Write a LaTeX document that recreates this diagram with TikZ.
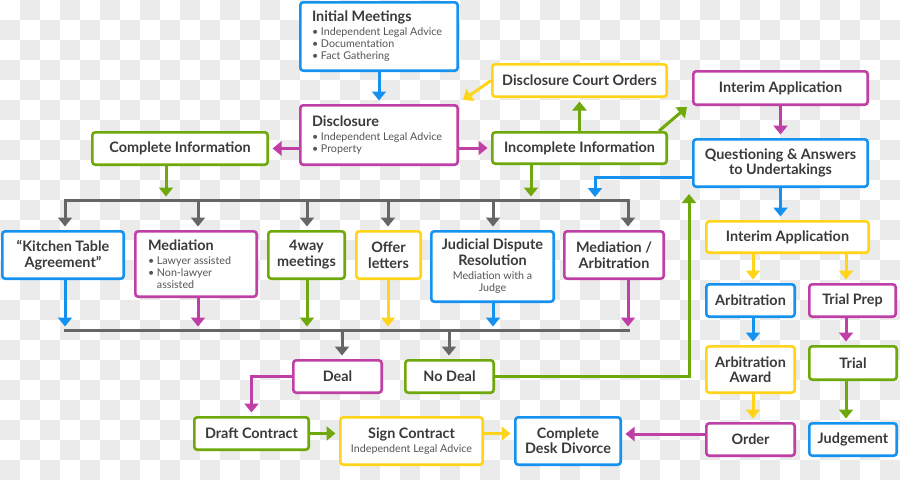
\documentclass[tikz,border=0pt]{standalone}
\usepackage{fontspec}
\setmainfont{Lato}
\usetikzlibrary{arrows.meta,calc}
\definecolor{cblue}{HTML}{1591F0}
\definecolor{cmag}{HTML}{BF3FA6}
\definecolor{cgreen}{HTML}{6FA80A}
\definecolor{cyel}{HTML}{FFD41A}
\definecolor{cgray}{HTML}{666666}
\definecolor{ctext}{HTML}{3A3A3A}
\definecolor{csub}{HTML}{555555}
\definecolor{checker}{HTML}{EBEBEB}
\newcommand\mytitle{\bfseries\fontsize{14.4}{16}\selectfont}
\newcommand\mysub{\mdseries\fontsize{10.7}{12}\selectfont\color{csub}}
\newcommand\bulletbox[2]{\parbox[c]{#1}{\raggedright #2}}
\begin{document}
\begin{tikzpicture}[x=1pt,y=-1pt,
  box/.style={draw=#1, line width=2.6pt, rounded corners=3pt, fill=white, inner sep=3pt, align=center, text=ctext, font=\mytitle},
  sz/.style 2 args={minimum width=#1pt-2.6pt, minimum height=#2pt-2.6pt},
  ar/.style={draw=#1, line width=3pt, -{Triangle[width=14pt,length=9pt]}, shorten >=3.5pt},
  bus/.style={draw=cgray, line width=3pt, line cap=rect}]
\useasboundingbox (0,0) rectangle (900,480);
% background
\fill[white] (0,0) rectangle (900,480);
\foreach \i in {0,...,44}{\foreach \j in {0,...,23}{\pgfmathtruncatemacro\chk{mod(\i+\j,2)}\ifnum\chk=1 \fill[checker] (\i*20,\j*20) rectangle ++(20,20);\fi}}

% nodes
\node[box=cblue, sz={160}{71}, inner xsep=11.7pt] (init) at (379,36.5)
  {\bulletbox{134pt}{\mytitle Initial Meetings\\[2pt]\mysub • Independent Legal Advice\\• Documentation\\• Fact Gathering}};
\node[box=cblue, draw=cmag, sz={160}{62}, inner xsep=11.7pt] (discl) at (379,135)
  {\bulletbox{134pt}{\mytitle Disclosure\\[2pt]\mysub • Independent Legal Advice\\• Property}};
\node[box=cgreen, sz={178}{35}] (compinfo) at (180,148.5) {Complete Information};
\node[box=cyel, sz={177}{35}] (courtord) at (579.5,80.5) {Disclosure Court Orders};
\node[box=cgreen, sz={177}{34}] (incomp) at (579.5,148) {Incomplete Information};
\node[box=cmag, sz={177}{36}] (interim1) at (780.5,88) {Interim Application};
\node[box=cblue, sz={177}{50}] (quest) at (780.5,163) {Questioning \& Answers\\[-1pt]to Undertakings};

\node[box=cblue, sz={124}{50}] (kitchen) at (63,255) {“Kitchen Table\\Agreement”};
\node[box=cmag, sz={124}{68}, inner xsep=12.7pt] (mediation) at (196,264)
  {\bulletbox{96pt}{\mytitle Mediation\\[2pt]\mysub • Lawyer assisted\\• Non-lawyer\\\hphantom{• }assisted}};
\node[box=cgreen, sz={79}{50}] (fourway) at (306.5,255) {4way\\meetings};
\node[box=cyel, sz={67}{50}] (offer) at (388.5,255) {Offer\\letters};
\node[box=cblue, sz={125}{73}] (jdr) at (492.5,266.5)
  {Judicial Dispute\\Resolution\\[-2pt]\mysub Mediation with a\\[-4pt]\mysub Judge};
\node[box=cmag, sz={102}{50}] (medarb) at (614,255) {Mediation /\\Arbitration};

\node[box=cyel, sz={165}{34}] (interim2) at (787.5,237) {Interim Application};
\node[box=cblue, sz={91}{35}] (arbit) at (750.5,300.5) {Arbitration};
\node[box=cmag, sz={89}{35}] (trialprep) at (852.5,300.5) {Trial Prep};
\node[box=cyel, sz={91}{49}] (award) at (750.5,369.5) {Arbitration\\[-1pt]Award};
\node[box=cgreen, sz={90}{36}] (trial) at (853,363) {Trial};
\node[box=cmag, sz={91}{35}] (order) at (750.5,439.5) {Order};
\node[box=cblue, sz={90}{35}] (judge) at (853,439.5) {Judgement};

\node[box=cmag, sz={91}{35}] (deal) at (337.5,376.5) {Deal};
\node[box=cgreen, sz={91}{35}] (nodeal) at (449.5,376.5) {No Deal};
\node[box=cgreen, sz={117}{35}] (draft) at (251.5,433.5) {Draft Contract};
\node[box=cyel, sz={145}{50}] (sign) at (411.5,441) {Sign Contract\\[-2pt]\mysub Independent Legal Advice};
\node[box=cblue, sz={108}{50}] (cdd) at (568,441) {Complete\\[-1pt]Desk Divorce};

% coordinates
\coordinate (c1) at (463,100);
\coordinate (c2) at (687,107);
\coordinate (c3) at (595,197);
\coordinate (c4) at (689,194);
\coordinate (a1) at ($(compinfo.south)+(-14,0)$);
\coordinate (a2) at ($(incomp.south)+(-48.5,0)$);
\coordinate (a3) at ($(incomp.north east)+(-9,0)$);
\coordinate (tbL) at (65,200);
\coordinate (tbR) at (628,200);
\coordinate (bbL) at (65,330);
\coordinate (bbR) at (628,330);
\coordinate (x2) at (198,0);
\coordinate (x3) at (307,0);
\coordinate (x4) at (388,0);
\coordinate (x5) at (493,0);
\coordinate (d1) at (342,330);
\coordinate (d2) at (449,330);
\coordinate (v1) at (753,0);
\coordinate (v2) at (846,0);
\coordinate (o1) at ($(order.west)+(0,-5.5)$);
\coordinate (q1) at ($(quest.west)+(0,14)$);

% upper connectors
\draw[ar=cblue] (init) -- (discl);
\draw[ar=cmag] (discl.west |- compinfo.east) -- (compinfo.east);
\draw[ar=cmag] (discl.east |- incomp.west) -- (incomp.west);
\draw[ar=cgreen] (incomp) -- (courtord);
\draw[ar=cyel, shorten >=0pt] (courtord.west) -- (c1);
\draw[ar=cgreen, shorten >=0pt] (a3) -- (c2);
\draw[ar=cmag] (interim1) -- (quest);
\draw[ar=cblue, shorten >=0pt] (q1) -| (c3);
\draw[ar=cgreen] (a1) -- (a1 |- tbL);
\draw[ar=cgreen] (a2) -- (a2 |- tbL);
\draw[ar=cblue] (quest.south) -- (quest.south |- interim2.north);

% upper bus
\draw[bus] (tbL) -- (tbR);
\draw[ar=cgray] (tbL) -- (tbL |- kitchen.north);
\draw[ar=cgray] (x2 |- tbL) -- (x2 |- mediation.north);
\draw[ar=cgray] (x3 |- tbL) -- (x3 |- fourway.north);
\draw[ar=cgray] (x4 |- tbL) -- (x4 |- offer.north);
\draw[ar=cgray] (x5 |- tbL) -- (x5 |- jdr.north);
\draw[ar=cgray] (tbR) -- (tbR |- medarb.north);

% lower bus
\draw[bus] (bbL) -- (bbR);
\draw[ar=cblue] (tbL |- kitchen.south) -- (bbL);
\draw[ar=cmag] (x2 |- mediation.south) -- (x2 |- bbL);
\draw[ar=cgreen] (x3 |- fourway.south) -- (x3 |- bbL);
\draw[ar=cyel] (x4 |- offer.south) -- (x4 |- bbL);
\draw[ar=cblue] (x5 |- jdr.south) -- (x5 |- bbL);
\draw[ar=cmag] (tbR |- medarb.south) -- (bbR);
\draw[ar=cgray] (d1) -- (d1 |- deal.north);
\draw[ar=cgray] (d2) -- (d2 |- nodeal.north);

% bottom
\draw[ar=cmag] (deal.west) -| (draft.north);
\draw[ar=cgreen] (draft.east) -- (draft.east -| sign.west);
\draw[ar=cyel] (draft.east -| sign.east) -- (draft.east -| cdd.west);
\draw[ar=cmag] (o1) -- (o1 -| cdd.east);
\draw[ar=cgreen, shorten >=0pt] (nodeal.east) -| (c4);

% right column
\draw[ar=cyel] (v1 |- interim2.south) -- (v1 |- arbit.north);
\draw[ar=cyel] (v2 |- interim2.south) -- (v2 |- trialprep.north);
\draw[ar=cblue] (v1 |- arbit.south) -- (v1 |- award.north);
\draw[ar=cmag] (v2 |- trialprep.south) -- (v2 |- trial.north);
\draw[ar=cyel] (v1 |- award.south) -- (v1 |- order.north);
\draw[ar=cgreen] (v2 |- trial.south) -- (v2 |- judge.north);
\end{tikzpicture}
\end{document}
